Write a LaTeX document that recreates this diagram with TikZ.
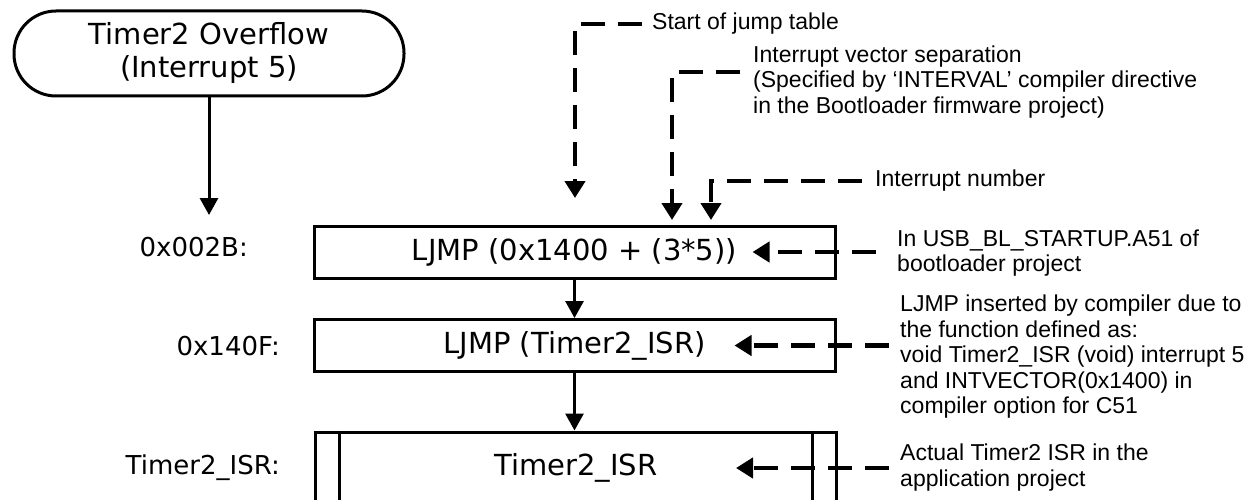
\documentclass[tikz,border=0pt]{standalone}
\usepackage{fontspec}
\setmainfont{Liberation Sans}
\newfontfamily\boxfont{DejaVu Sans}
\usetikzlibrary{arrows.meta}

\begin{document}
\begin{tikzpicture}[x=1pt, y=-1pt,
	box/.style={draw, line width=3pt, minimum width=521pt, minimum height=52pt,
		font=\boxfont\fontsize{29}{33}\selectfont},
	addr/.style={anchor=east, inner sep=0pt, font=\boxfont\fontsize{26}{30}\selectfont},
	note/.style={anchor=west, align=left, inner sep=0pt, font=\fontsize{23}{25.5}\selectfont},
	flow/.style={line width=3pt, -{Triangle[length=17pt, width=18pt]}},
	hint/.style={line width=4.5pt, dash pattern=on 24pt off 13pt, -{Triangle[length=17pt, width=20pt]}}]
	\clip (0,0) rectangle (1252,500);

	\node [draw, line width=3pt, rounded corners=42pt, minimum width=390pt, minimum height=85pt,
		align=center, font=\boxfont\fontsize{29}{33}\selectfont] (ovf) at (209,53.5)
		{Timer2 Overflow\\(Interrupt 5)};
	\coordinate (ovfend) at (209,215);

	\node [box] (jmptab) at (574.5,252) {LJMP (0x1400 + (3*5))};
	\node [box] (jmpisr) at (574.5,345.5) {LJMP (Timer2\_ISR)};
	\node [box, minimum height=72pt] (isr) at (576,468) {Timer2\_ISR};
	\draw [line width=3pt] ([xshift=25pt]isr.north west) -- ([xshift=25pt]isr.south west)
		([xshift=-26pt]isr.north east) -- ([xshift=-26pt]isr.south east);

	\node [addr] (addrtab) at (248,247) {0x002B:};
	\node [addr] (addrisr) at (280,346) {0x140F:};
	\node [addr] (addrfn) at (280,468) {Timer2\_ISR:};

	\node [note] (nstart) at (652,24) {Start of jump table};
	\node [note] (nsep) at (753,82) {Interrupt vector separation\\(Specified by ‘INTERVAL’ compiler directive\\in the Bootloader firmware project)};
	\node [note] (nnum) at (875,181) {Interrupt number};
	\node [note] (nstartup) at (897,253) {In USB\_BL\_STARTUP.A51 of\\bootloader project};
	\node [note] (ninsert) at (900,357) {LJMP inserted by compiler due to\\the function defined as:\\void Timer2\_ISR (void) interrupt 5\\and INTVECTOR(0x1400) in\\compiler option for C51};
	\node [note] (nactual) at (900,467.5) {Actual Timer2 ISR in the\\application project};

	\coordinate (tabtip) at (575,198);
	\coordinate (septip) at (672,220);
	\coordinate (numtip) at (711,220);

	% solid flow
	\draw [flow] (ovf.south) -- (ovfend);
	\draw [flow] (jmptab) -- (jmpisr);
	\draw [flow] (jmpisr.south) -- (jmpisr.south |- isr.north);

	% dashed remarks
	\draw [hint] (nstart.west) ++(-10,0) -| (tabtip);
	\draw [hint] (nsep.west) ++(-13,-10) -| (septip);
	\draw [hint] (nnum.west) ++(-13,0) -| (numtip);
	\draw [hint] (jmptab.east -| nstartup.west) ++(-21,0) -- ([xshift=-84pt]jmptab.east);
	\draw [hint] (jmpisr.east -| ninsert.west) ++(-11,0) -- ([xshift=-102pt]jmpisr.east);
	\draw [hint] (isr.east -| nactual.west) ++(-11,0) -- ([xshift=-102pt]isr.east);
\end{tikzpicture}
\end{document}
